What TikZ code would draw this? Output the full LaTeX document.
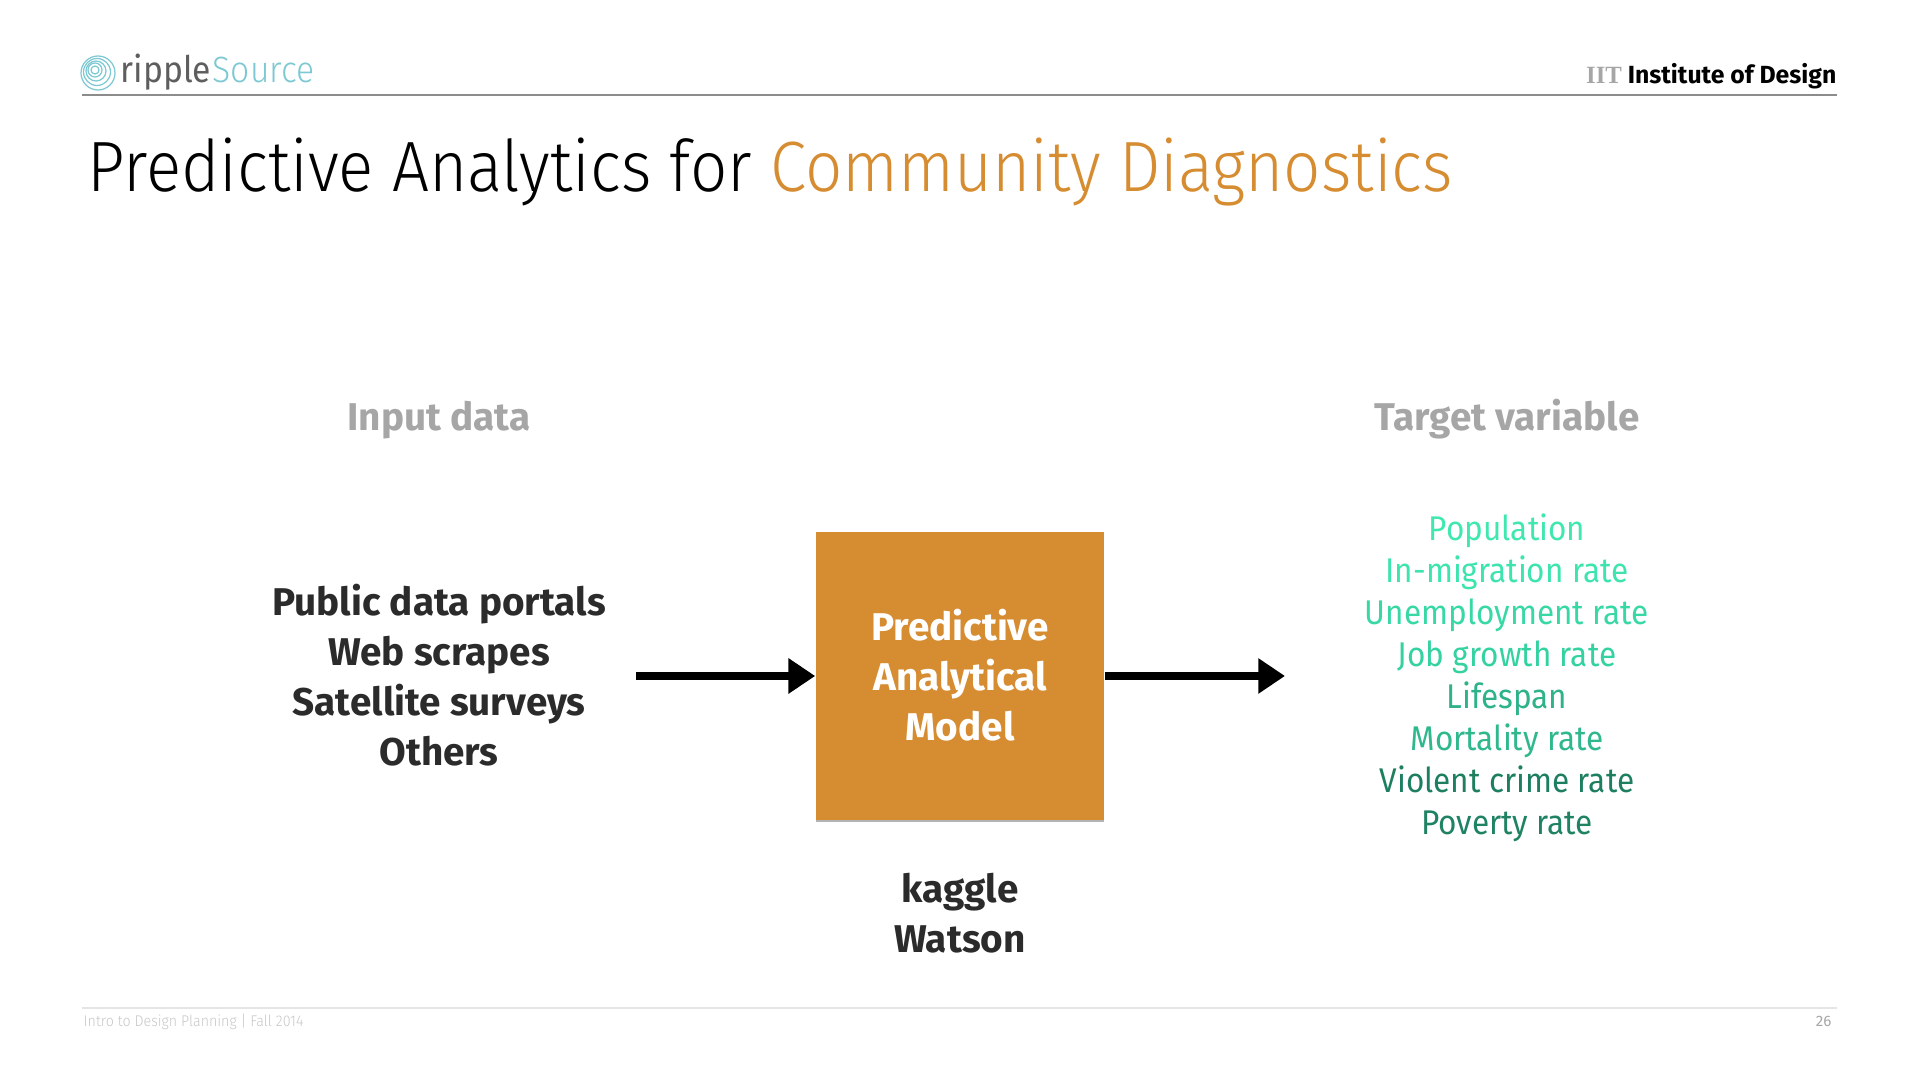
\documentclass[tikz,border=0pt]{standalone}
\usepackage{fontspec}
\usetikzlibrary{arrows.meta,shadows}
\setmainfont{Fira Sans}
\newfontfamily\lightfont[FakeStretch=0.92]{Fira Sans Light}
\newfontfamily\bookfont[FakeStretch=0.92]{Fira Sans}
\newfontfamily\slabfont{Liberation Serif}
\definecolor{titleorange}{HTML}{D68C31}
\definecolor{boxorange}{HTML}{D68C31}
\definecolor{heading}{HTML}{A6A6A6}
\definecolor{darktext}{HTML}{2B2B2B}
\definecolor{logoteal}{HTML}{7CC8D3}
\definecolor{logogray}{HTML}{5E5E5E}
\tikzset{
    every node/.append style={inner sep=0},
    heading/.style={anchor=base, font=\fontsize{11}{13}\selectfont\bfseries, text=heading},
    inputline/.style={anchor=base, font=\fontsize{11}{13}\selectfont\bfseries, text=darktext},
    boxline/.style={anchor=base, font=\fontsize{11}{13}\selectfont\bfseries, text=white},
    targetline/.style={anchor=base, font=\bookfont\fontsize{9.75}{11}\selectfont},
    flow/.style={-{Triangle[length=7.6pt,width=9.6pt]}, line width=2.2pt, black}
}
\begin{document}
\begin{tikzpicture}[x=0.01cm, y=-0.01cm]
    \useasboundingbox (0, 0) rectangle (1920, 1080);

    % header
    \foreach \r/\dx in {17/0, 13.5/-1, 10/-2, 7/-3, 4/-3} {
        \draw[logoteal, line width=0.35pt] (98+\dx, 73+\dx) circle (\r);
    }
    \node[anchor=base west, text=logogray, font=\bookfont\fontsize{10.4}{12}\selectfont] (ripple) at (120, 83) {ripple};
    \node[anchor=base west, text=logoteal, font=\lightfont\fontsize{10.4}{12}\selectfont] (source) at (212, 83) {Source};
    \node[anchor=base east, font=\fontsize{7.05}{9}\selectfont\bfseries] (iit) at (1837, 84) {{\slabfont\color{heading}IIT} Institute of Design};
    \draw[black!45, line width=0.4pt] (82, 95) -- (1837, 95);

    % title
    \node[anchor=base west, font=\lightfont\fontsize{20.25}{24}\selectfont] (title) at (87, 192) {Predictive Analytics for \textcolor{titleorange}{Community Diagnostics}};

    % headings
    \node[heading] (input) at (439, 431) {Input data};
    \node[heading] (target) at (1507, 431) {Target variable};

    % left column
    \node[inputline] (portals) at (439, 616) {Public data portals};
    \node[inputline] (scrapes) at (439, 666) {Web scrapes};
    \node[inputline] (surveys) at (439, 716) {Satellite surveys};
    \node[inputline] (others) at (439, 766) {Others};

    % model
    \node[fill=boxorange, minimum width=2.88cm, minimum height=2.88cm,
          drop shadow={shadow xshift=0pt, shadow yshift=-0.5pt, opacity=0.6}] (model) at (960, 676) {};
    \node[boxline] (predictive) at (960, 641) {Predictive};
    \node[boxline] (analytical) at (960, 691) {Analytical};
    \node[boxline] (modelname) at (960, 741) {Model};
    \node[inputline] (kaggle) at (960, 903) {kaggle};
    \node[inputline] (watson) at (960, 953) {Watson};

    % target column
    \node[targetline, text={rgb,255:red,64;green,232;blue,176}] (population) at (1507, 541) {Population};
    \node[targetline, text={rgb,255:red,62;green,228;blue,174}] (migration) at (1507, 583) {In-migration rate};
    \node[targetline, text={rgb,255:red,56;green,216;blue,165}] (unemployment) at (1507, 625) {Unemployment rate};
    \node[targetline, text={rgb,255:red,52;green,210;blue,160}] (jobs) at (1507, 667) {Job growth rate};
    \node[targetline, text={rgb,255:red,46;green,178;blue,137}] (lifespan) at (1507, 709) {Lifespan};
    \node[targetline, text={rgb,255:red,46;green,184;blue,140}] (mortality) at (1507, 751) {Mortality rate};
    \node[targetline, text={rgb,255:red,30;green,127;blue,96}] (crime) at (1507, 793) {Violent crime rate};
    \node[targetline, text={rgb,255:red,31;green,130;blue,98}] (poverty) at (1507, 835) {Poverty rate};

    % arrows
    \coordinate (instart) at (636, 676);
    \coordinate (outend) at (1285, 676);
    \draw[flow] (instart) -- (model);
    \draw[flow] (model) -- (outend);

    % footer
    \draw[black!10, line width=0.3pt] (82, 1008) -- (1837, 1008);
    \node[anchor=base west, text=black!22, font=\lightfont\fontsize{4.4}{5}\selectfont] (course) at (83, 1027) {Intro to Design Planning | Fall 2014};
    \node[anchor=base east, text=black!35, font=\fontsize{4.3}{5}\selectfont] (page) at (1832, 1027) {26};
\end{tikzpicture}
\end{document}
